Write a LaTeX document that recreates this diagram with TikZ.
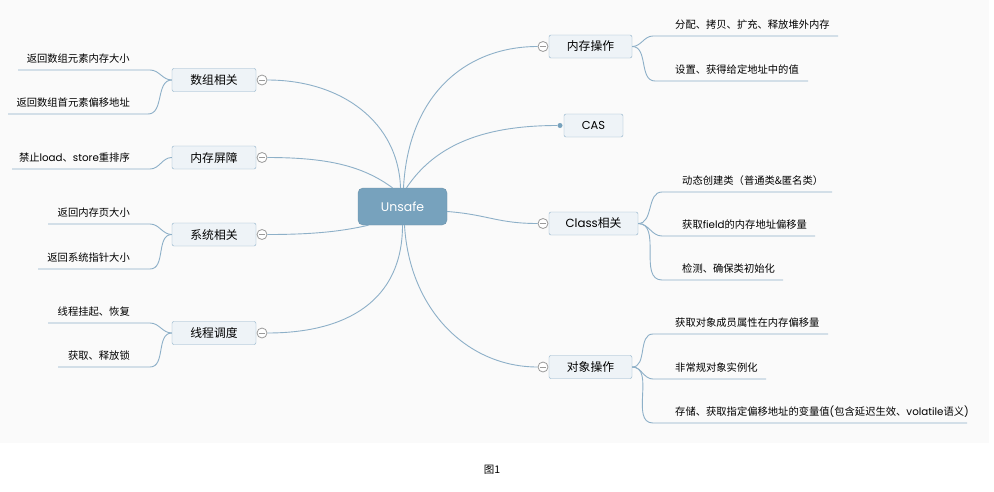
\documentclass[tikz,border=0pt]{standalone}
\usepackage{fontspec}
\setmainfont{Noto Sans CJK SC}
\newfontfamily\latfont{Poppins}
\usepackage{xcolor}
\usepackage{tikz}
\usetikzlibrary{positioning, calc}
\definecolor{mapline}{HTML}{8DB0C8}
\definecolor{mapfill}{HTML}{EEF3F7}
\definecolor{rootfill}{HTML}{77A2BD}
\definecolor{canvasgray}{HTML}{FAFAFA}
\definecolor{foldgray}{HTML}{9A9A9A}

\begin{document}
\begin{tikzpicture}[x=1pt, y=-1pt,
    root/.style={rectangle, draw=rootfill!90!black, fill=rootfill, rounded corners=5pt, minimum width=89pt, minimum height=37pt, text=white, font=\latfont\fontsize{12.5}{14}\selectfont},
    topic/.style={rectangle, draw=mapline, fill=mapfill, rounded corners=2pt, minimum width=84pt, minimum height=23pt, inner sep=2pt, font=\fontsize{11.8}{14}\selectfont},
    leafl/.style={anchor=base east, inner sep=0pt, font=\fontsize{10.3}{12}\selectfont},
    leafr/.style={anchor=base west, inner sep=0pt, font=\fontsize{10.3}{12}\selectfont},
    fold/.style={circle, draw=foldgray, fill=white, minimum size=10pt, inner sep=0pt, line width=0.8pt,
        path picture={\draw[foldgray, line width=0.8pt] ([xshift=-3pt]path picture bounding box.center) -- ([xshift=3pt]path picture bounding box.center);}},
    link/.style={draw=mapline, line width=0.9pt}
]
    \useasboundingbox (0,0) rectangle (994,491);
    \fill[canvasgray] (0,0) rectangle (989,443);

    % Root
    \node (root) [root] at (402.5,206.5) {Unsafe};

    % Left topics
    \node (arr) [topic] at (214,80) {数组相关};
    \node (barrier) [topic] at (214,157.5) {内存屏障};
    \node (sys) [topic] at (214,234.5) {系统相关};
    \node (thread) [topic] at (214,333) {线程调度};
    \node (arrfold) [fold] at (262,80) {};
    \node (barrierfold) [fold] at (262,157.5) {};
    \node (sysfold) [fold] at (262,234.5) {};
    \node (threadfold) [fold] at (262,333) {};

    % Right topics
    \node (mem) [topic, minimum width=83pt] at (590.5,46.5) {内存操作};
    \node (cas) [topic, minimum width=59pt, font=\latfont\fontsize{11.5}{14}\selectfont] at (593.5,125.5) {CAS};
    \node (cls) [topic, minimum width=89pt] at (593.5,223.5) {{\latfont Class}相关};
    \node (obj) [topic, minimum width=83pt] at (590.5,367) {对象操作};
    \node (memfold) [fold] at (543,46.5) {};
    \node (objfold) [fold] at (543,367) {};
    \node (clsfold) [fold] at (543,223.5) {};
    \node (casdot) [circle, fill=rootfill, minimum size=5pt, inner sep=0pt] at (560,125.5) {};

    % Root connectors
    \draw [link] ([xshift=-2pt]root.north) .. controls +(-2,-65) and +(75,0) .. (arrfold.east);
    \draw [link] ([xshift=-10pt]root.north) .. controls +(-30,-22) and +(60,0) .. (barrierfold.east);
    \draw [link] ([xshift=-34pt]root.south) .. controls +(-30,7) and +(40,0) .. (sysfold.east);
    \draw [link] (root.south) .. controls +(0,75) and +(80,0) .. (threadfold.east);
    \draw [link] ([xshift=1pt]root.north) .. controls +(5,-95) and +(-70,0) .. (memfold.west);
    \draw [link] ([xshift=4pt]root.north) .. controls +(30,-45) and +(-70,0) .. (casdot.west);
    \draw [link] ([yshift=-5pt]root.east) .. controls +(40,3) and +(-40,0) .. (clsfold.west);
    \draw [link] ([xshift=2pt]root.south) .. controls +(5,85) and +(-70,0) .. (objfold.west);

    % Left leaves
    \coordinate (arrAi) at (150,70);    \coordinate (arrAo) at (18,70);
    \coordinate (arrBi) at (148,114);   \coordinate (arrBo) at (8,114);
    \coordinate (barAi) at (150,169);   \coordinate (barAo) at (12,169);
    \coordinate (sysAi) at (150,224);   \coordinate (sysAo) at (48,224);
    \coordinate (sysBi) at (150,269);   \coordinate (sysBo) at (38,269);
    \coordinate (thrAi) at (150,323);   \coordinate (thrAo) at (48,323);
    \coordinate (thrBi) at (150,367);   \coordinate (thrBo) at (58,367);
    \node (arrA) [leafl] at (130,62.5) {返回数组元素内存大小};
    \node (arrB) [leafl] at (130,106.5) {返回数组首元素偏移地址};
    \node (barA) [leafl] at (130,161.5) {禁止{\latfont load}、{\latfont store}重排序};
    \node (sysA) [leafl] at (130,216.5) {返回内存页大小};
    \node (sysB) [leafl] at (130,261.5) {返回系统指针大小};
    \node (thrA) [leafl] at (130,315.5) {线程挂起、恢复};
    \node (thrB) [leafl] at (130,359.5) {获取、释放锁};
    \draw [link] (arr.west) to[out=180, in=0] (arrAi) -- (arrAo);
    \draw [link] (arr.west) to[out=180, in=0] (arrBi) -- (arrBo);
    \draw [link] (barrier.west) to[out=180, in=0] (barAi) -- (barAo);
    \draw [link] (sys.west) to[out=180, in=0] (sysAi) -- (sysAo);
    \draw [link] (sys.west) to[out=180, in=0] (sysBi) -- (sysBo);
    \draw [link] (thread.west) to[out=180, in=0] (thrAi) -- (thrAo);
    \draw [link] (thread.west) to[out=180, in=0] (thrBi) -- (thrBo);

    % Right leaves
    \coordinate (memAi) at (653,36);    \coordinate (memAo) at (838,36);
    \coordinate (memBi) at (655,81);    \coordinate (memBo) at (808,81);
    \coordinate (clsAi) at (662,192);   \coordinate (clsAo) at (832,192);
    \coordinate (clsBi) at (662,236);   \coordinate (clsBo) at (815,236);
    \coordinate (clsCi) at (662,280);   \coordinate (clsCo) at (783,280);
    \coordinate (objAi) at (653,334);   \coordinate (objAo) at (828,334);
    \coordinate (objBi) at (653,379);   \coordinate (objBo) at (766,379);
    \coordinate (objCi) at (653,423);   \coordinate (objCo) at (967,423);
    \node (memA) [leafr] at (675,28.5) {分配、拷贝、扩充、释放堆外内存};
    \node (memB) [leafr] at (675,73.5) {设置、获得给定地址中的值};
    \node (clsA) [leafr] at (682,184.5) {动态创建类（普通类\&匿名类）};
    \node (clsB) [leafr] at (682,228.5) {获取{\latfont field}的内存地址偏移量};
    \node (clsC) [leafr] at (682,272.5) {检测、确保类初始化};
    \node (objA) [leafr] at (675,326.5) {获取对象成员属性在内存偏移量};
    \node (objB) [leafr] at (675,371.5) {非常规对象实例化};
    \node (objC) [leafr] at (675,415.5) {存储、获取指定偏移地址的变量值{\latfont (}包含延迟生效、{\latfont volatile}语义{\latfont )}};
    \draw [link] (mem.east) to[out=0, in=180] (memAi) -- (memAo);
    \draw [link] (mem.east) to[out=0, in=180] (memBi) -- (memBo);
    \draw [link] (cls.east) to[out=0, in=180] (clsAi) -- (clsAo);
    \draw [link] (cls.east) to[out=0, in=180] (clsBi) -- (clsBo);
    \draw [link] (cls.east) to[out=0, in=180] (clsCi) -- (clsCo);
    \draw [link] (obj.east) to[out=0, in=180] (objAi) -- (objAo);
    \draw [link] (obj.east) to[out=0, in=180] (objBi) -- (objBo);
    \draw [link] (obj.east) to[out=0, in=180] (objCi) -- (objCo);

    % Caption
    \node (caption) [font=\fontsize{10.5}{12}\selectfont] at (492,470) {图1};
\end{tikzpicture}
\end{document}
